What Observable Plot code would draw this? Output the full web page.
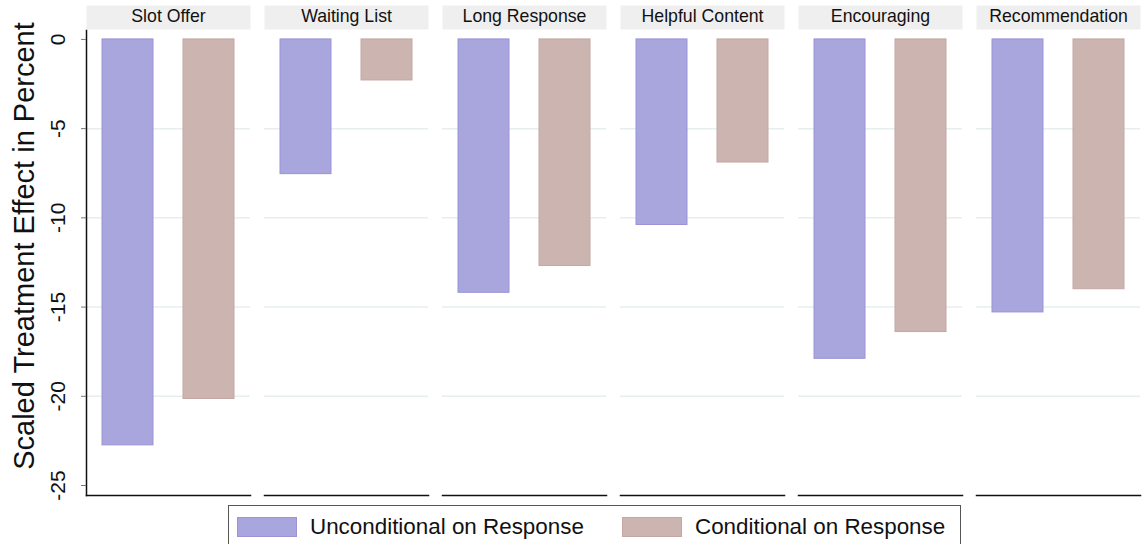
<!DOCTYPE html>
<html>
<head>
<meta charset="utf-8">
<script src="https://cdn.jsdelivr.net/npm/d3@7"></script>
<script src="https://cdn.jsdelivr.net/npm/@observablehq/plot@0.6"></script>
<style>
  html, body { margin: 0; padding: 0; background: #fff; }
  body { font-family: "Liberation Sans", Arial, sans-serif; width: 1142px; height: 544px; overflow: hidden; position: relative; }
  #legend { position: absolute; left: 228px; top: 505px; width: 733px; height: 50px; border: 1px solid #555; box-sizing: border-box; }
  .item { position: absolute; top: 10px; height: 22px; display: flex; align-items: center; font-size: 22.4px; color: #111; white-space: nowrap; }
  .sw { width: 60px; height: 20px; box-sizing: border-box; margin-right: 13px; }
</style>
</head>
<body>
<div id="chart"></div>
<div id="legend"></div>
<script>
const categories = ["Slot Offer", "Waiting List", "Long Response", "Helpful Content", "Encouraging", "Recommendation"];
const seriesNames = ["Unconditional on Response", "Conditional on Response"];
const unconditional = [-22.75, -7.55, -14.2, -10.4, -17.9, -15.3];
const conditional = [-20.15, -2.3, -12.7, -6.9, -16.4, -14.0];
const yTicks = [0, -5, -10, -15, -20, -25];
const gridTicks = [-5, -10, -15, -20];
const yTitle = "Scaled Treatment Effect in Percent";
const fills = ["#a9a5dd", "#ccb4b0"];
const strokes = ["#9a93d8", "#c4a7a3"];

const rows = [];
categories.forEach((c, i) => {
  rows.push({category: c, series: seriesNames[0], value: unconditional[i]});
  rows.push({category: c, series: seriesNames[1], value: conditional[i]});
});

const W = 1142, H = 500, mTop = 30, mBottom = 5, mLeft = 84, mRight = 0;
const frameH = H - mTop - mBottom;
const stripH = 24;

const chart = Plot.plot({
  width: W, height: H,
  marginTop: mTop, marginBottom: mBottom, marginLeft: mLeft, marginRight: mRight,
  style: {fontFamily: "'Liberation Sans', Arial, sans-serif", background: "#fff"},
  fx: {domain: categories, paddingInner: 0.078, paddingOuter: 0},
  x: {domain: seriesNames, paddingInner: 0.366, paddingOuter: 0.189, axis: null},
  y: {domain: [-25.56, 0.5]},
  color: {domain: seriesNames, range: fills},
  marks: [
    Plot.frame({fill: "#efefef", stroke: "none", insetTop: -(stripH + 1), insetBottom: frameH + 1}),
    Plot.ruleY(gridTicks, {stroke: "#e6efee", strokeWidth: 1.5}),
    Plot.barY(rows, {fx: "category", x: "series", y: "value", fill: "series",
      stroke: d => strokes[seriesNames.indexOf(d.series)], strokeWidth: 1}),
    Plot.frame({anchor: "bottom", stroke: "#111", strokeWidth: 1.5}),
    Plot.frame({anchor: "left", stroke: "#111", strokeWidth: 1.5, facetAnchor: "left"}),
    Plot.axisFx({anchor: "top", tickSize: 0, tickPadding: 8.5, fontSize: 17.7, label: null, fill: "#111"}),
    Plot.axisY(yTicks, {anchor: "left", tickSize: 5, tickPadding: 17, tickRotate: -90, fontSize: 21,
      stroke: "#777", fill: "#111", label: null, tickFormat: d => String(d)}),
    Plot.text([yTitle], {text: d => d, frameAnchor: "left", textAnchor: "middle", rotate: -90, dx: -62, dy: -17,
      fontSize: 29, fill: "#111", facetAnchor: "left"})
  ]
});
document.getElementById("chart").appendChild(chart);

const legend = document.getElementById("legend");
const lefts = [8, 393];
seriesNames.forEach((s, i) => {
  const it = document.createElement("div");
  it.className = "item";
  it.style.left = lefts[i] + "px";
  const sw = document.createElement("div");
  sw.className = "sw";
  sw.style.background = fills[i];
  sw.style.border = "1px solid " + strokes[i];
  it.appendChild(sw);
  const t = document.createElement("span");
  t.textContent = s;
  it.appendChild(t);
  legend.appendChild(it);
});
</script>
</body>
</html>
